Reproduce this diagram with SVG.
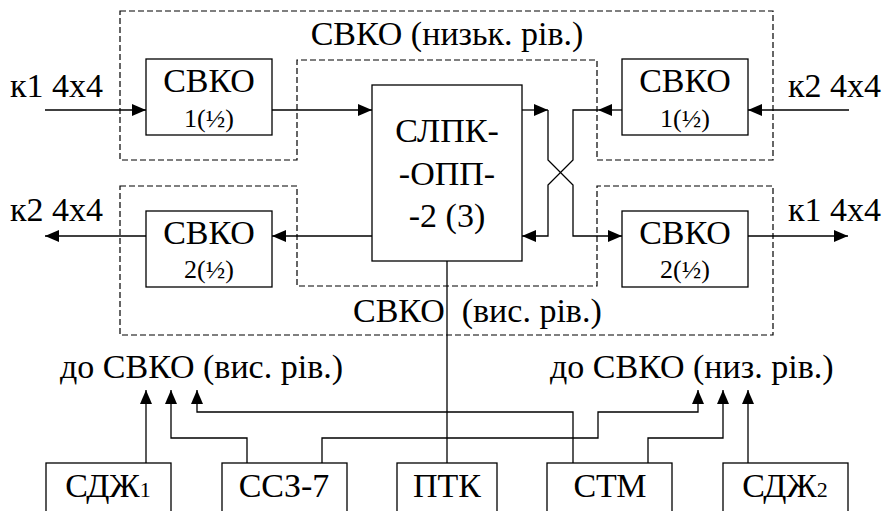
<svg xmlns="http://www.w3.org/2000/svg" width="887" height="511" viewBox="0 0 887 511">
<style>
.box{fill:#fff;stroke:#000;stroke-width:1.3}
.dash{fill:none;stroke:#000;stroke-width:1.2;stroke-dasharray:6 3}
.ln{fill:none;stroke:#000;stroke-width:1.3}
</style>
<defs>
<marker id="ah" viewBox="0 0 14 12" refX="14" refY="6" markerWidth="14" markerHeight="12" markerUnits="userSpaceOnUse" orient="auto">
<path d="M0,0 L14,6 L0,12 Z" fill="#000"/>
</marker>
</defs>
<g id="regions">
<path class="dash" d="M120,11 H773 V160 H597 V60 H297 V160 H120 Z"/>
<path class="dash" d="M120,186 H297 V286 H597 V186 H773 V335 H120 Z"/>
<text font-family="'Liberation Serif', 'DejaVu Serif', serif" font-size="34" x="447" y="45" text-anchor="middle">СВКО (низьк. рів.)</text>
<text font-family="'Liberation Serif', 'DejaVu Serif', serif" font-size="34" x="353" y="322" xml:space="preserve">СВКО  (вис. рів.)</text>
</g>
<g id="connectors">
<line class="ln" x1="45" y1="110" x2="146" y2="110" marker-end="url(#ah)"/>
<line class="ln" x1="272" y1="110" x2="372" y2="110" marker-end="url(#ah)"/>
<line class="ln" x1="522" y1="110" x2="548" y2="110" marker-end="url(#ah)"/>
<polyline class="ln" points="548,110 548,160 573,185 573,236 622,236" marker-end="url(#ah)"/>
<line class="ln" x1="622" y1="110" x2="598" y2="110" marker-end="url(#ah)"/>
<polyline class="ln" points="598,110 573,110 573,160 548,185 548,236 522,236" marker-end="url(#ah)"/>
<line class="ln" x1="849" y1="110" x2="748" y2="110" marker-end="url(#ah)"/>
<line class="ln" x1="372" y1="236" x2="272" y2="236" marker-end="url(#ah)"/>
<line class="ln" x1="146" y1="236" x2="45" y2="236" marker-end="url(#ah)"/>
<line class="ln" x1="748" y1="236" x2="848" y2="236" marker-end="url(#ah)"/>
<line class="ln" x1="447" y1="261" x2="447" y2="463"/>
<polyline class="ln" points="146,463 146,390" marker-end="url(#ah)"/>
<polyline class="ln" points="247,463 247,438 171,438 171,390" marker-end="url(#ah)"/>
<polyline class="ln" points="573,463 573,412 197,412 197,390" marker-end="url(#ah)"/>
<polyline class="ln" points="322,463 322,438 598,438 598,412 698,412 698,390" marker-end="url(#ah)"/>
<polyline class="ln" points="648,463 648,438 723,438 723,390" marker-end="url(#ah)"/>
<polyline class="ln" points="748,463 748,390" marker-end="url(#ah)"/>
</g>
<g id="labels">
<text font-family="'Liberation Serif', 'DejaVu Serif', serif" font-size="34" x="10" y="97">к1 4x4</text>
<text font-family="'Liberation Serif', 'DejaVu Serif', serif" font-size="34" x="788" y="97">к2 4x4</text>
<text font-family="'Liberation Serif', 'DejaVu Serif', serif" font-size="34" x="10" y="221">к2 4x4</text>
<text font-family="'Liberation Serif', 'DejaVu Serif', serif" font-size="34" x="788" y="221">к1 4x4</text>
<text font-family="'Liberation Serif', 'DejaVu Serif', serif" font-size="34" x="60" y="378">до СВКО (вис. рів.)</text>
<text font-family="'Liberation Serif', 'DejaVu Serif', serif" font-size="34" x="550" y="378">до СВКО (низ. рів.)</text>
</g>
<g id="svko1-l">
<rect class="box" x="146" y="59" width="126" height="76"/>
<text font-family="'Liberation Serif', 'DejaVu Serif', serif" font-size="34" text-anchor="middle" x="209" y="92">СВКО</text>
<text font-family="'Liberation Serif', 'DejaVu Serif', serif" font-size="26" text-anchor="middle" x="209" y="127">1(½)</text>
</g>
<g id="svko1-r">
<rect class="box" x="622" y="59" width="126" height="76"/>
<text font-family="'Liberation Serif', 'DejaVu Serif', serif" font-size="34" text-anchor="middle" x="685" y="92">СВКО</text>
<text font-family="'Liberation Serif', 'DejaVu Serif', serif" font-size="26" text-anchor="middle" x="685" y="127">1(½)</text>
</g>
<g id="svko2-l">
<rect class="box" x="146" y="211" width="126" height="76"/>
<text font-family="'Liberation Serif', 'DejaVu Serif', serif" font-size="34" text-anchor="middle" x="209" y="244">СВКО</text>
<text font-family="'Liberation Serif', 'DejaVu Serif', serif" font-size="26" text-anchor="middle" x="209" y="278">2(½)</text>
</g>
<g id="svko2-r">
<rect class="box" x="622" y="211" width="126" height="76"/>
<text font-family="'Liberation Serif', 'DejaVu Serif', serif" font-size="34" text-anchor="middle" x="685" y="244">СВКО</text>
<text font-family="'Liberation Serif', 'DejaVu Serif', serif" font-size="26" text-anchor="middle" x="685" y="278">2(½)</text>
</g>
<g id="slpk">
<rect class="box" x="372" y="85" width="150" height="176"/>
<text font-family="'Liberation Serif', 'DejaVu Serif', serif" font-size="34" text-anchor="middle" x="447" y="142">СЛПК-</text>
<text font-family="'Liberation Serif', 'DejaVu Serif', serif" font-size="34" text-anchor="middle" x="447" y="185">-ОПП-</text>
<text font-family="'Liberation Serif', 'DejaVu Serif', serif" font-size="34" text-anchor="middle" x="447" y="227">-2 (3)</text>
</g>
<g id="sdzh1">
<rect class="box" x="46" y="463" width="125" height="60"/>
<text font-family="'Liberation Serif', 'DejaVu Serif', serif" font-size="34" text-anchor="middle" x="108" y="497">СДЖ<tspan font-size="22">1</tspan></text>
</g>
<g id="ssz7">
<rect class="box" x="222" y="463" width="125" height="60"/>
<text font-family="'Liberation Serif', 'DejaVu Serif', serif" font-size="34" text-anchor="middle" x="284" y="497">ССЗ-7</text>
</g>
<g id="ptk">
<rect class="box" x="397" y="463" width="100" height="60"/>
<text font-family="'Liberation Serif', 'DejaVu Serif', serif" font-size="34" text-anchor="middle" x="447" y="497">ПТК</text>
</g>
<g id="stm">
<rect class="box" x="547" y="463" width="125" height="60"/>
<text font-family="'Liberation Serif', 'DejaVu Serif', serif" font-size="34" text-anchor="middle" x="610" y="497">СТМ</text>
</g>
<g id="sdzh2">
<rect class="box" x="723" y="463" width="125" height="60"/>
<text font-family="'Liberation Serif', 'DejaVu Serif', serif" font-size="34" text-anchor="middle" x="785" y="497">СДЖ<tspan font-size="22">2</tspan></text>
</g>
</svg>
